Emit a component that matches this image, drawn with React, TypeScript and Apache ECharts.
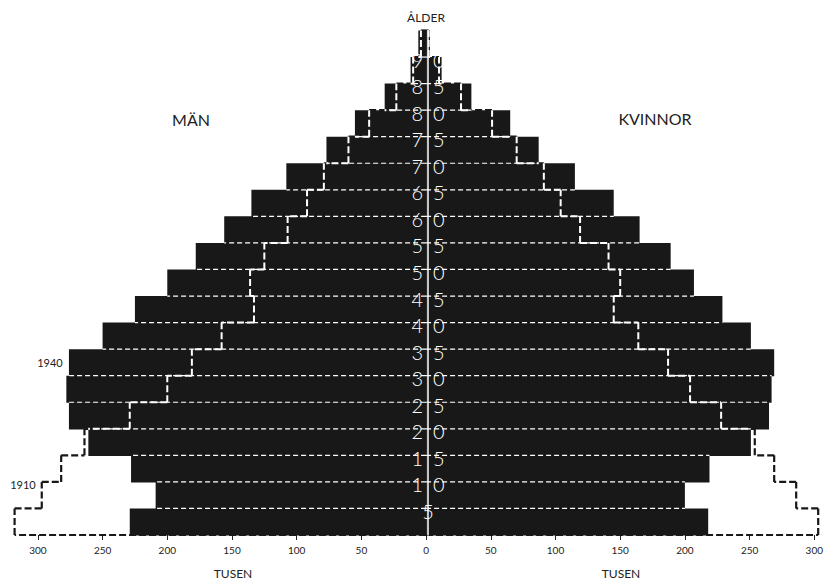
import React, { useEffect, useRef } from 'react';
import * as echarts from 'echarts';

// Age groups (5-year bands), bottom to top
const ageGroups = ['0-4', '5-9', '10-14', '15-19', '20-24', '25-29', '30-34', '35-39', '40-44', '45-49', '50-54', '55-59', '60-64', '65-69', '70-74', '75-79', '80-84', '85-89', '90-94'];
// Thousands of persons
const men1940 = [229, 209, 228, 261, 276, 278, 276, 250, 225, 200, 178, 156, 135, 108, 77, 55, 32, 12, 6];
const men1910 = [318, 297, 282, 264, 229, 200, 181, 158, 133, 136, 125, 107, 92, 79, 60, 44, 23, 10, 4];
const women1940 = [218, 200, 219, 251, 265, 267, 269, 251, 229, 207, 189, 165, 145, 115, 87, 65, 35, 12, 3];
const women1910 = [303, 286, 269, 254, 228, 204, 187, 164, 145, 150, 141, 119, 104, 91, 70, 51, 27, 10, 2];
const xTickValues = [-300, -250, -200, -150, -100, -50, 0, 50, 100, 150, 200, 250, 300];

const X_MIN = -320;
const X_MAX = 305;
const GRID_LEFT = 12;
const GRID_RIGHT = 1.5;
const CHART_W = 826;

const BLACK = '#181818';
const TEXT = '#222222';

function ln(x1: number, y1: number, x2: number, y2: number, stroke: string, lineWidth: number, dash: number[]) {
  return { type: 'line', shape: { x1, y1, x2, y2 }, style: { stroke, lineWidth, lineDash: dash, fill: null } };
}

function makeRender(layer: 'old' | 'bar' | 'white') {
  return (params: any, api: any) => {
    const k = params.dataIndex;
    const N = ageGroups.length;
    const a0 = k * 5;
    const a1 = a0 + 5;
    const yb = api.coord([0, a0])[1];
    const yt = api.coord([0, a1])[1];
    const children: any[] = [];
    const sides = [
      { s: -1, b: men1940, o: men1910 },
      { s: 1, b: women1940, o: women1910 },
    ];
    for (const sd of sides) {
      const X = (v: number) => api.coord([sd.s * v, a0])[0];
      const b = sd.b[k];
      const o = sd.o[k];
      const pb = k > 0 ? sd.b[k - 1] : 0;
      const po = k > 0 ? sd.o[k - 1] : 0;
      if (layer === 'old') {
        children.push(ln(X(o), yb, X(o), yt, BLACK, 2.2, [7, 3]));
        children.push(ln(X(po), yb, X(o), yb, BLACK, 2.2, [7, 3]));
        if (k === N - 1) children.push(ln(X(0), yt, X(o), yt, BLACK, 2.2, [7, 3]));
      } else if (layer === 'bar') {
        const x0 = X(0);
        const x1 = X(b);
        children.push({
          type: 'rect',
          shape: { x: Math.min(x0, x1), y: yt, width: Math.abs(x1 - x0), height: yb - yt + 0.6 },
          style: { fill: BLACK },
        });
      } else {
        if (k > 0) {
          const m = Math.min(pb, b);
          children.push(ln(X(0), yb, X(m), yb, '#ffffff', 1.2, [5, 3]));
          const lo = Math.min(po, o);
          const hi = Math.min(Math.max(po, o), m);
          if (hi > lo) children.push(ln(X(lo), yb, X(hi), yb, '#ffffff', 2, [7, 3]));
        }
        if (o < b) children.push(ln(X(o), yb, X(o), yt, '#ffffff', 2, [7, 3]));
      }
    }
    return { type: 'group', children };
  };
}

export default function App() {
  const ref = useRef<HTMLDivElement>(null);
  useEffect(() => {
    if (!ref.current) return;
    const chart = echarts.init(ref.current, undefined, { renderer: 'svg' });
    const data = ageGroups.map((_, k) => [0, k * 5 + 2.5]);
    const font = 'Lato';
    const digit = { color: '#ffffff', fontSize: 20, fontFamily: font, fontWeight: 300 };
    // place the age axis at x value 0
    const gridW = CHART_W - GRID_LEFT - GRID_RIGHT;
    const zeroOffset = ((0 - X_MIN) / (X_MAX - X_MIN)) * gridW;
    const option: any = {
      animation: false,
      backgroundColor: '#ffffff',
      grid: { left: GRID_LEFT, right: GRID_RIGHT, top: 30.5, bottom: 45, containLabel: false },
      xAxis: {
        type: 'value',
        min: X_MIN,
        max: X_MAX,
        axisLine: { show: false, onZero: false },
        splitLine: { show: false },
        axisTick: { show: true, length: 5, lineStyle: { color: TEXT, width: 1 }, customValues: xTickValues },
        axisLabel: {
          customValues: xTickValues,
          formatter: (v: number) => String(Math.abs(v)),
          color: TEXT,
          fontSize: 10,
          fontFamily: font,
          margin: 10,
        },
      },
      yAxis: {
        type: 'value',
        position: 'left',
        offset: -zeroOffset,
        min: 0,
        max: 95,
        interval: 5,
        z: 10,
        axisLine: { show: true, onZero: false, lineStyle: { color: '#ffffff', width: 1.5 } },
        axisTick: { show: false },
        splitLine: { show: false },
        axisLabel: {
          show: true,
          margin: 0,
          align: 'center',
          padding: [5, 0, 0, 0],
          color: '#ffffff',
          fontSize: 20,
          fontFamily: font,
          formatter: (v: number) => {
            if (v < 5 || v > 90) return '';
            const s = String(v);
            return s.length === 1 ? `{c|${s}}` : `{l|${s[0]}}{r|${s[1]}}`;
          },
          rich: {
            c: digit,
            l: { ...digit, padding: [0, 5, 0, 0] },
            r: { ...digit, padding: [0, 0, 0, 5] },
          },
        },
      },
      series: (['old', 'bar', 'white'] as const).map((layer) => ({
        type: 'custom',
        name: layer,
        coordinateSystem: 'cartesian2d',
        clip: false,
        silent: true,
        encode: { x: 0, y: 1 },
        data,
        renderItem: makeRender(layer),
      })),
      graphic: [
        { type: 'text', x: 191, y: 119, style: { text: 'MÄN', fontSize: 16, fontFamily: font, fill: TEXT, align: 'center', verticalAlign: 'middle' } },
        { type: 'text', x: 655, y: 118, style: { text: 'KVINNOR', fontSize: 16, fontFamily: font, fill: TEXT, align: 'center', verticalAlign: 'middle' } },
        { type: 'text', x: 426, y: 17, style: { text: 'ÅLDER', fontSize: 12, fontFamily: font, fill: TEXT, align: 'center', verticalAlign: 'middle' } },
        { type: 'text', x: 50, y: 362, style: { text: '1940', fontSize: 11, fontFamily: font, fill: TEXT, align: 'center', verticalAlign: 'middle' } },
        { type: 'text', x: 23, y: 484, style: { text: '1910', fontSize: 11, fontFamily: font, fill: TEXT, align: 'center', verticalAlign: 'middle' } },
        { type: 'text', x: 233, y: 573, style: { text: 'TUSEN', fontSize: 12, fontFamily: font, fill: TEXT, align: 'center', verticalAlign: 'middle' } },
        { type: 'text', x: 621, y: 573, style: { text: 'TUSEN', fontSize: 12, fontFamily: font, fill: TEXT, align: 'center', verticalAlign: 'middle' } },
      ],
    };
    chart.setOption(option);
    return () => chart.dispose();
  }, []);
  return <div ref={ref} style={{ position: 'fixed', left: 0, top: 0, width: 826, height: 580 }} />;
}
